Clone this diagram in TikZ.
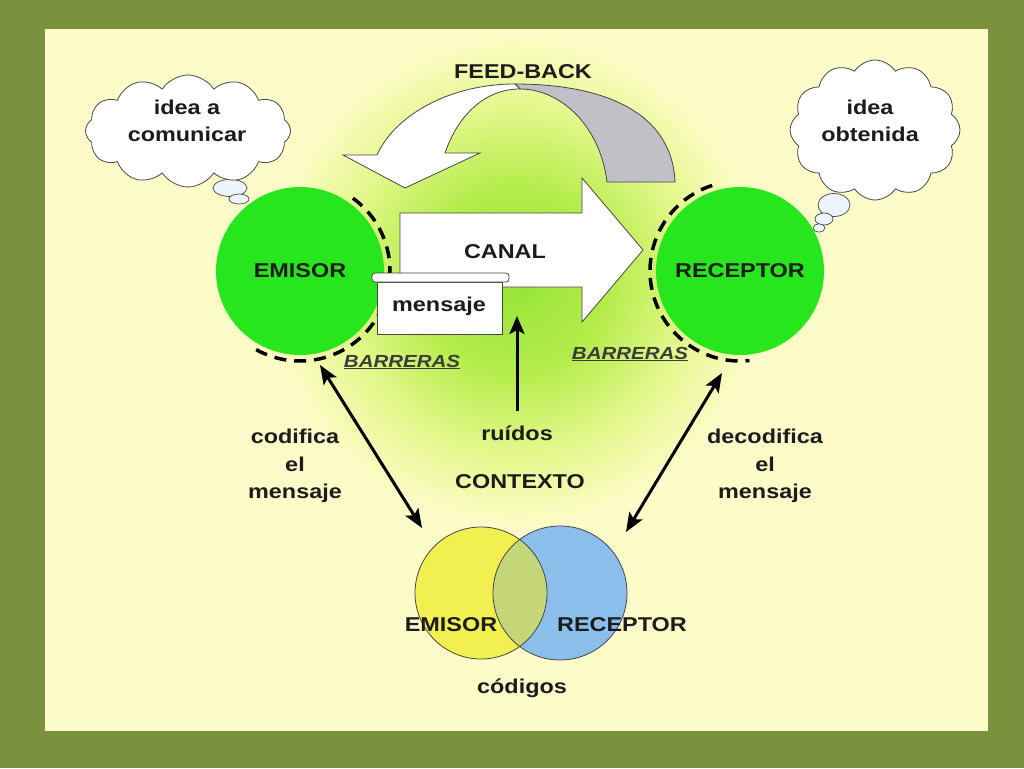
\documentclass[tikz,border=0pt]{standalone}
\usepackage{fontspec}
\setmainfont{Liberation Sans}[FakeStretch=1.17]
\usetikzlibrary{arrows.meta,shapes.symbols,shapes.geometric}
\definecolor{frame}{RGB}{122,146,62}
\definecolor{panel}{RGB}{253,252,200}
\definecolor{glowA}{RGB}{150,228,55}
\definecolor{glowB}{RGB}{180,236,75}
\definecolor{glowC}{RGB}{228,247,140}
\definecolor{ball}{RGB}{40,230,30}
\definecolor{txt}{RGB}{28,28,28}
\definecolor{edge}{RGB}{70,70,70}
\definecolor{fbgray}{RGB}{192,192,198}
\definecolor{vyellow}{RGB}{242,240,80}
\definecolor{vblue}{RGB}{140,190,236}
\definecolor{vmix}{RGB}{196,214,120}
\definecolor{barr}{RGB}{60,60,60}
\definecolor{bubble}{RGB}{236,244,250}
\pgfdeclareradialshading{glow}{\pgfpoint{0bp}{0bp}}{color(0bp)=(glowA); color(3.3bp)=(glowB); color(6.2bp)=(glowC); color(8.8bp)=(panel); color(50bp)=(panel)}
\tikzset{
  lbl/.style={font=\bfseries\fontsize{20}{27.5}\selectfont, text=txt, align=center, inner sep=0pt},
  barlbl/.style={font=\bfseries\itshape\fontsize{17.5}{20}\selectfont, text=barr, inner sep=0pt},
  ballnode/.style={circle, fill=ball, minimum size=168pt, inner sep=0pt},
  thought/.style={cloud, cloud puffs=12, cloud puff arc=115, draw=edge, fill=white, line width=0.8pt, inner sep=0pt},
  puff/.style={ellipse, draw=edge, fill=bubble, line width=0.7pt, inner sep=0pt},
  shapeline/.style={draw=edge, line width=0.8pt},
  barrier/.style={draw=black, line width=3.5pt, dash pattern=on 12pt off 8pt},
  dblarrow/.style={draw=black, line width=3pt, {Stealth[length=19pt,width=15pt,inset=4pt]}-{Stealth[length=19pt,width=15pt,inset=4pt]}},
  uparrow/.style={draw=black, line width=3pt, -{Stealth[length=18pt,width=15pt,inset=4pt]}},
  venn/.style={draw=edge, line width=0.8pt}
}
\begin{document}
\begin{tikzpicture}[x=1pt,y=1pt,yscale=-1]
\useasboundingbox (0,0) rectangle (1024,768);
% background
\fill[frame] (0,0) rectangle (1024,768);
\begin{scope}
  \clip (45,30) rectangle (988,730);
  \fill[shading=glow] (515,280) circle[radius=700];
\end{scope}
% feed-back arrow
\path[shapeline, fill=fbgray] (675,182) .. controls (672,110) and (600,84) .. (515,84)
   -- (520,89) .. controls (560,89) and (600,125) .. (607,182) -- cycle;
\path[shapeline, fill=white] (515,84) .. controls (450,84) and (395,115) .. (377,155)
   -- (343,155) -- (405,188) -- (480,153) -- (445,153)
   .. controls (458,115) and (485,89) .. (520,89) -- cycle;
\node[lbl] (fb) at (523,72) {FEED-BACK};
% thought clouds
\node[puff, minimum width=34pt, minimum height=17pt] (lp1) at (230,188) {};
\node[puff, minimum width=20pt, minimum height=10pt] (lp2) at (239,199) {};
\node[thought, aspect=1.9, minimum width=205pt, minimum height=112pt] (lc) at (188,131) {};
\node[lbl] (lct) at (187,121) {idea a\\comunicar};
\node[puff, minimum width=32pt, minimum height=23pt] (rp1) at (834,205) {};
\node[puff, minimum width=18pt, minimum height=12pt] (rp2) at (824,219) {};
\node[puff, minimum width=12pt, minimum height=8pt] (rp3) at (819,228) {};
\node[thought, aspect=1.2, minimum width=170pt, minimum height=140pt] (rc) at (875,130) {};
\node[lbl] (rct) at (870,121) {idea\\obtenida};
% emisor / receptor
\node[ballnode] (emi) at (300,271) {};
\node[lbl] at (emi.center) {EMISOR};
\node[ballnode] (rec) at (740,271) {};
\node[lbl] at (rec.center) {RECEPTOR};
\draw[barrier] (emi.center) ++(-54:90pt) arc[start angle=-54, end angle=120, radius=90];
\draw[barrier] (rec.center) ++(-108:90pt) arc[start angle=-108, end angle=-276, radius=90];
% canal arrow
\path[shapeline, fill=white] (400,213) -- (582,213) -- (582,178) -- (643,250) -- (582,322) -- (582,287) -- (400,287) -- cycle;
\node[lbl] (canal) at (505,252) {CANAL};
% mensaje scroll
\path[shapeline, fill=white] (377,282) rectangle (502,334);
\path[shapeline, fill=white, rounded corners=3pt] (372,273) rectangle (509,282);
\node[lbl] (men) at (439,306) {mensaje};
% barreras
\node[barlbl] (b1) at (402,362) {\underline{BARRERAS}};
\node[barlbl] (b2) at (630,354) {\underline{BARRERAS}};
% ruidos
\node[lbl] (rui) at (517,433) {ruídos};
\node[lbl] (ctx) at (520,482) {CONTEXTO};
\coordinate (ruiTop) at (517,411);
\coordinate (ruiTip) at (517,316);
\draw[uparrow] (ruiTop) -- (ruiTip);
% codifica / decodifica
\node[lbl] (cod) at (295,466) {codifica\\el\\mensaje};
\node[lbl] (dec) at (765,466) {decodifica\\el\\mensaje};
\coordinate (la) at (320,365);
\coordinate (lb) at (422,528);
\coordinate (ra) at (722,373);
\coordinate (rb) at (626,532);
\draw[dblarrow] (la) -- (lb);
\draw[dblarrow] (ra) -- (rb);
% venn
\coordinate (vy) at (481,593);
\coordinate (vb) at (560,593);
\fill[vyellow] (vy) circle[radius=66];
\fill[vblue] (vb) circle[radius=67];
\begin{scope}
  \clip (vy) circle[radius=66];
  \fill[vmix] (vb) circle[radius=67];
\end{scope}
\draw[venn] (vy) circle[radius=66];
\draw[venn] (vb) circle[radius=67];
\node[lbl] (ve) at (451,625) {EMISOR};
\node[lbl] (vr) at (622,625) {RECEPTOR};
\node[lbl] (codg) at (522,688) {códigos};
\end{tikzpicture}
\end{document}
